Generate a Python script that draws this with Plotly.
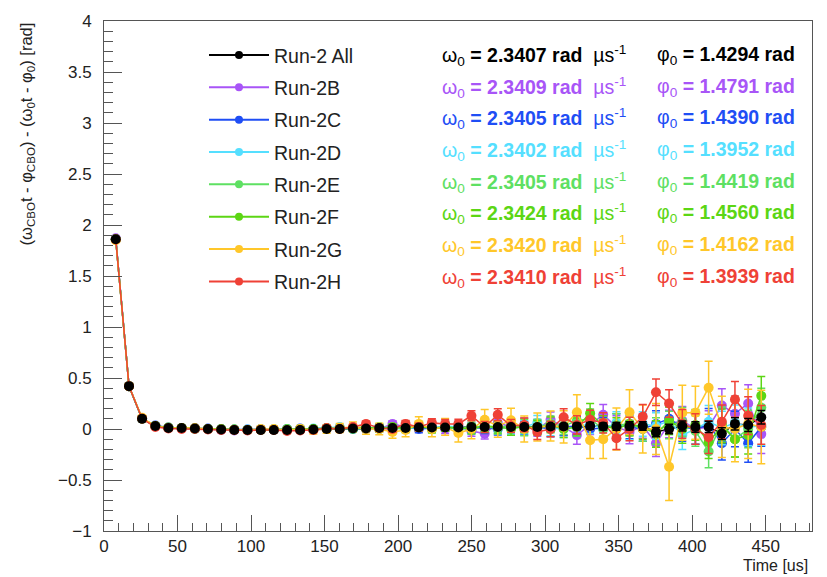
import plotly.graph_objects as go

# ---------------- data ----------------
time_us = [8.0, 17.0, 25.9, 34.9, 43.8, 52.8, 61.8, 70.7, 79.7, 88.6,
           97.6, 106.6, 115.5, 124.5, 133.4, 142.4, 151.4, 160.3, 169.3, 178.2,
           187.2, 196.2, 205.1, 214.1, 223.0, 232.0, 241.0, 249.9, 258.9, 267.8,
           276.8, 285.8, 294.7, 303.7, 312.6, 321.6, 330.6, 339.5, 348.5, 357.4,
           366.4, 375.4, 384.3, 393.3, 402.2, 411.2, 420.2, 429.1, 438.1, 447.0]

run_names = ["Run-2 All", "Run-2B", "Run-2C", "Run-2D", "Run-2E", "Run-2F", "Run-2G", "Run-2H"]
omega0 = ["2.3407", "2.3409", "2.3405", "2.3402", "2.3405", "2.3424", "2.3420", "2.3410"]
phi0 = ["1.4294", "1.4791", "1.4390", "1.3952", "1.4419", "1.4560", "1.4162", "1.3939"]

val_all = [1.86, 0.42, 0.10, 0.03, 0.01, 0.01, 0.005, 0.0, -0.005, -0.01,
           -0.01, -0.01, -0.01, -0.01, -0.01, -0.005, 0.0, 0.0, 0.005, 0.005,
           0.01, 0.01, 0.01, 0.015, 0.015, 0.015, 0.015, 0.02, 0.02, 0.02,
           0.02, 0.02, 0.02, 0.025, 0.025, 0.025, 0.03, 0.025, 0.025, 0.03,
           0.03, -0.03, 0.0, 0.03, 0.02, 0.02, -0.045, 0.05, 0.04, 0.115]
val_B = [1.87, 0.42, 0.10, 0.03, 0.01, 0.01, 0.005, 0.0, -0.01, -0.015,
         -0.01, -0.005, -0.01, -0.005, 0.0, -0.01, 0.0, 0.01, 0.0, 0.01,
         0.0, 0.05, 0.02, 0.01, 0.02, 0.0, 0.03, -0.02, -0.045, 0.06,
         0.02, 0.04, 0.0, 0.09, 0.02, -0.06, 0.04, 0.14, 0.02, -0.03,
         0.03, -0.14, 0.05, 0.08, 0.0, 0.02, 0.23, 0.15, 0.25, -0.05]
val_C = [1.86, 0.42, 0.10, 0.035, 0.015, 0.01, 0.01, 0.005, 0.0, -0.005,
         -0.005, 0.0, -0.005, 0.0, 0.005, 0.0, 0.01, 0.005, 0.0, 0.0,
         0.01, 0.0, 0.02, 0.0, 0.01, 0.02, 0.0, 0.01, 0.01, 0.0,
         0.03, 0.01, 0.02, 0.0, 0.02, 0.03, 0.0, 0.01, 0.04, 0.02,
         0.0, 0.05, 0.1, 0.02, 0.0, 0.04, -0.14, 0.0, -0.14, 0.02]
val_D = [1.86, 0.42, 0.10, 0.03, 0.01, 0.005, 0.0, 0.0, -0.005, -0.01,
         -0.005, -0.005, 0.0, -0.005, 0.0, 0.005, 0.01, 0.02, 0.0, 0.01,
         0.02, 0.01, 0.0, 0.02, 0.01, 0.03, 0.02, 0.0, 0.03, 0.02,
         0.01, 0.02, 0.06, 0.01, 0.0, 0.02, 0.05, 0.0, 0.06, 0.01,
         0.05, 0.03, 0.08, -0.06, 0.0, 0.07, 0.01, 0.06, 0.02, 0.03]
val_E = [1.86, 0.42, 0.10, 0.03, 0.01, 0.01, 0.0, 0.0, -0.005, -0.005,
         -0.01, -0.005, -0.01, 0.0, -0.005, 0.0, 0.005, 0.01, 0.0, 0.005,
         0.02, 0.01, 0.0, 0.03, 0.01, 0.02, 0.0, 0.03, 0.02, 0.01,
         0.04, 0.0, 0.02, 0.05, 0.03, 0.08, 0.1, 0.0, 0.04, 0.05,
         0.0, -0.02, 0.04, 0.07, -0.02, -0.22, 0.05, -0.1, 0.0, 0.21]
val_F = [1.86, 0.42, 0.10, 0.03, 0.015, 0.01, 0.005, 0.0, 0.0, -0.005,
         -0.01, -0.01, -0.005, -0.005, 0.0, 0.0, 0.01, 0.0, 0.01, 0.02,
         0.0, 0.02, 0.01, 0.03, 0.0, 0.02, 0.01, 0.0, 0.03, 0.02,
         0.0, 0.03, 0.01, 0.04, 0.0, 0.02, 0.155, 0.03, 0.0, 0.05,
         0.02, -0.05, 0.08, 0.0, 0.04, -0.13, 0.03, -0.1, -0.06, 0.325]
val_G = [1.85, 0.42, 0.11, 0.03, 0.01, 0.01, 0.01, 0.0, -0.005, -0.01,
         -0.01, 0.0, 0.0, -0.01, 0.0, -0.01, 0.0, 0.01, 0.02, 0.0,
         0.0, -0.03, -0.01, 0.05, 0.0, 0.02, -0.04, 0.0, 0.09, 0.03,
         0.085, 0.0, 0.02, 0.03, 0.02, 0.165, -0.11, -0.1, 0.0, 0.165,
         0.0, 0.0, -0.37, 0.16, 0.16, 0.405, 0.02, 0.0, 0.05, 0.02]
val_H = [1.86, 0.42, 0.10, 0.02, 0.005, 0.0, 0.0, -0.005, -0.01, -0.01,
         -0.015, -0.01, -0.01, -0.02, -0.015, -0.01, 0.01, 0.0, 0.02, 0.05,
         0.01, 0.0, 0.05, 0.02, 0.06, 0.05, 0.05, 0.13, 0.02, 0.14,
         0.03, 0.04, -0.03, 0.0, 0.115, 0.04, 0.09, 0.06, -0.09, 0.0,
         0.12, 0.36, 0.25, 0.05, 0.0, -0.08, 0.07, 0.29, 0.13, 0.04]

err_all = [0.002, 0.002, 0.002, 0.003, 0.003, 0.003, 0.004, 0.004, 0.004, 0.005,
           0.005, 0.005, 0.006, 0.006, 0.006, 0.007, 0.007, 0.008, 0.009, 0.009,
           0.010, 0.011, 0.012, 0.013, 0.014, 0.015, 0.016, 0.017, 0.019, 0.020,
           0.022, 0.023, 0.025, 0.027, 0.029, 0.031, 0.033, 0.035, 0.038, 0.040,
           0.042, 0.045, 0.047, 0.049, 0.052, 0.055, 0.058, 0.061, 0.064, 0.067]
err_run = [0.006, 0.007, 0.007, 0.008, 0.009, 0.010, 0.010, 0.011, 0.012, 0.013,
           0.014, 0.015, 0.016, 0.017, 0.018, 0.020, 0.021, 0.023, 0.025, 0.027,
           0.029, 0.031, 0.034, 0.037, 0.040, 0.043, 0.046, 0.050, 0.054, 0.058,
           0.062, 0.067, 0.072, 0.077, 0.083, 0.089, 0.095, 0.100, 0.110, 0.115,
           0.120, 0.130, 0.135, 0.140, 0.150, 0.160, 0.165, 0.175, 0.185, 0.190]
err_G = [0.011, 0.012, 0.013, 0.015, 0.016, 0.018, 0.019, 0.021, 0.023, 0.025,
         0.027, 0.029, 0.031, 0.033, 0.035, 0.038, 0.041, 0.044, 0.048, 0.052,
         0.056, 0.060, 0.065, 0.070, 0.076, 0.082, 0.088, 0.095, 0.100, 0.110,
         0.118, 0.127, 0.137, 0.147, 0.158, 0.170, 0.180, 0.190, 0.205, 0.220,
         0.235, 0.250, 0.330, 0.270, 0.260, 0.260, 0.300, 0.320, 0.340, 0.360]

values = [val_all, val_B, val_C, val_D, val_E, val_F, val_G, val_H]
errors = [err_all, err_run, err_run, err_run, err_run, err_run, err_G, err_run]
colors = ["#000000", "#a855f7", "#1f4ef5", "#55dfff", "#5ee062", "#5cd614", "#ffc72a", "#ef4136"]

FONT = "Liberation Sans, Arial, Helvetica, sans-serif"

fig = go.Figure()

# combined-run connecting line underneath everything
fig.add_trace(go.Scatter(
    x=time_us, y=val_all, mode="lines", line=dict(color=colors[0], width=1.5),
    showlegend=False, hoverinfo="skip",
))
# individual runs
for i in range(1, 8):
    fig.add_trace(go.Scatter(
        x=time_us, y=values[i], mode="lines+markers",
        line=dict(color=colors[i], width=1.5),
        marker=dict(color=colors[i], size=10),
        error_y=dict(type="data", array=errors[i], color=colors[i], thickness=1.5, width=4),
        showlegend=False, name=run_names[i], hoverinfo="skip",
    ))
# combined-run markers on top
fig.add_trace(go.Scatter(
    x=time_us, y=val_all, mode="markers",
    marker=dict(color=colors[0], size=10),
    error_y=dict(type="data", array=err_all, color=colors[0], thickness=1.5, width=4),
    showlegend=False, hoverinfo="skip",
))

# legend entries (no data drawn)
for i, name in enumerate(run_names):
    fig.add_trace(go.Scatter(
        x=[None], y=[None], mode="lines+markers", name=name,
        line=dict(color=colors[i], width=2),
        marker=dict(color=colors[i], size=8),
        legendgroup=name, legendrank=i + 1, showlegend=True,
    ))

# parameter text
plot_l, plot_r, plot_t, plot_b = 104, 812, 13, 531
pw, ph = plot_r - plot_l, plot_b - plot_t
row0, drow = 48, 32.2
for i in range(len(run_names)):
    yc = (plot_b - (row0 + drow * i)) / ph
    fig.add_annotation(
        xref="paper", yref="paper", x=(440 - plot_l) / pw, y=yc,
        xanchor="left", yanchor="middle", showarrow=False,
        text=f"ω<sub>0</sub><b> = {omega0[i]} rad  </b>µs<sup>-1</sup>",
        font=dict(family=FONT, size=19.5, color=colors[i]),
    )
    fig.add_annotation(
        xref="paper", yref="paper", x=(655 - plot_l) / pw, y=yc,
        xanchor="left", yanchor="middle", showarrow=False,
        text=f"φ<sub>0</sub><b> = {phi0[i]} rad</b>",
        font=dict(family=FONT, size=19.5, color=colors[i]),
    )

# axis titles
fig.add_annotation(
    xref="paper", yref="paper", x=(26 - plot_l) / pw, y=1.0,
    xanchor="center", yanchor="top", showarrow=False, textangle=-90,
    text="(ω<sub>CBO</sub>t - φ<sub>CBO</sub>) - (ω<sub>0</sub>t - φ<sub>0</sub>) [rad]",
    font=dict(family=FONT, size=16.5, color="#222222"),
)
fig.add_annotation(
    xref="paper", yref="paper", x=(810 - plot_l) / pw, y=(plot_b - 566) / ph,
    xanchor="right", yanchor="middle", showarrow=False,
    text="Time [us]", font=dict(family=FONT, size=16, color="#222222"),
)

axis_common = dict(
    showgrid=False, zeroline=False, showline=True, linecolor="#555555", linewidth=1,
    mirror=True, ticks="inside", tickcolor="#555555",
    tickfont=dict(family=FONT, size=17, color="#222222"),
)
fig.update_xaxes(range=[0, 481.5], dtick=50, tick0=0, ticklen=16,
                 minor=dict(dtick=10, ticks="inside", ticklen=8, tickcolor="#555555"),
                 ticklabelstandoff=0, **axis_common)
fig.update_yaxes(range=[-1, 4], dtick=0.5, tick0=0, ticklen=18,
                 minor=dict(dtick=0.1, ticks="inside", ticklen=9, tickcolor="#555555"),
                 ticklabelstandoff=8, **axis_common)

fig.update_layout(
    width=827, height=577,
    margin=dict(l=plot_l, r=827 - plot_r, t=plot_t, b=577 - plot_b),
    paper_bgcolor="white", plot_bgcolor="white",
    font=dict(family=FONT, size=16, color="#222222"),
    legend=dict(
        x=(204 - plot_l) / pw, y=(plot_b - 28) / ph, xanchor="left", yanchor="top",
        bgcolor="rgba(0,0,0,0)", font=dict(family=FONT, size=19.5, color="#222222"),
        tracegroupgap=4, traceorder="grouped", itemwidth=60,
    ),
)

fig.write_html("out.html")
